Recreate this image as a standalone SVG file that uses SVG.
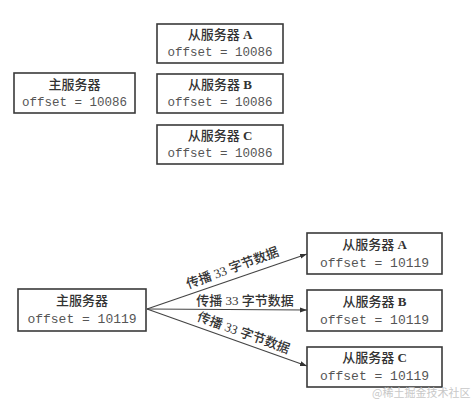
<svg xmlns="http://www.w3.org/2000/svg" width="471" height="406" viewBox="0 0 471 406">
<defs>
<style>
.box{fill:#fff;stroke:#3a3a3a;stroke-width:1.6}
.t{font-family:"Liberation Serif","Noto Sans CJK SC",serif;font-size:13px;font-weight:500;fill:#333;text-anchor:middle}
.b{font-weight:bold}
.o{font-family:"Liberation Mono","DejaVu Sans Mono",monospace;font-size:12.5px;fill:#555;text-anchor:middle}
.o2{font-size:13px}
.e{stroke:#444;stroke-width:1.2;fill:none;marker-end:url(#ah)}
.l{font-family:"Liberation Serif","Noto Sans CJK SC",serif;font-size:13px;font-weight:500;fill:#333;text-anchor:middle}
.w{font-family:"Noto Sans CJK SC",sans-serif;font-size:11px;fill:#c8c8c8}
</style>
<marker id="ah" viewBox="0 0 10 10" refX="10" refY="5" markerWidth="7" markerHeight="7" orient="auto" markerUnits="userSpaceOnUse">
<path d="M0,1.5 L10,5 L0,8.5 z" fill="#333"/>
</marker>
</defs>
<rect width="471" height="406" fill="#fff"/>
<g id="top-master"><rect class="box" x="14" y="73" width="121" height="40"/><text class="t" x="74.5" y="89">主服务器</text><text class="o" x="74.5" y="106">offset = 10086</text></g>
<g id="top-slave-a"><rect class="box" x="157" y="24" width="126" height="39"/><text class="t" x="220" y="39">从服务器 <tspan class="b">A</tspan></text><text class="o" x="220" y="56">offset = 10086</text></g>
<g id="top-slave-b"><rect class="box" x="157" y="74" width="126" height="39"/><text class="t" x="220" y="89">从服务器 <tspan class="b">B</tspan></text><text class="o" x="220" y="106">offset = 10086</text></g>
<g id="top-slave-c"><rect class="box" x="157" y="125" width="126" height="39"/><text class="t" x="220" y="140">从服务器 <tspan class="b">C</tspan></text><text class="o" x="220" y="157">offset = 10086</text></g>
<g id="connectors">
<line class="e" x1="147" y1="309" x2="307" y2="254"/>
<line class="e" x1="147" y1="309" x2="307" y2="310"/>
<line class="e" x1="147" y1="309" x2="307" y2="366"/>
<text class="l" transform="translate(234,272) rotate(-20)">传播 33 字节数据</text>
<text class="l" x="245" y="305">传播 33 字节数据</text>
<text class="l" transform="translate(242,337) rotate(20)">传播 33 字节数据</text>
</g>
<g id="bottom-master"><rect class="box" x="18" y="289" width="128" height="42"/><text class="t" x="82" y="305">主服务器</text><text class="o o2" x="82" y="323">offset = 10119</text></g>
<g id="bottom-slave-a"><rect class="box" x="307" y="233" width="135" height="41"/><text class="t" x="374.5" y="249">从服务器 <tspan class="b">A</tspan></text><text class="o o2" x="374.5" y="267">offset = 10119</text></g>
<g id="bottom-slave-b"><rect class="box" x="307" y="290" width="135" height="41"/><text class="t" x="374.5" y="306">从服务器 <tspan class="b">B</tspan></text><text class="o o2" x="374.5" y="324">offset = 10119</text></g>
<g id="bottom-slave-c"><rect class="box" x="307" y="347" width="135" height="40"/><text class="t" x="374.5" y="362">从服务器 <tspan class="b">C</tspan></text><text class="o o2" x="374.5" y="380">offset = 10119</text></g>
<text class="w" x="372" y="397">@稀土掘金技术社区</text>
</svg>
